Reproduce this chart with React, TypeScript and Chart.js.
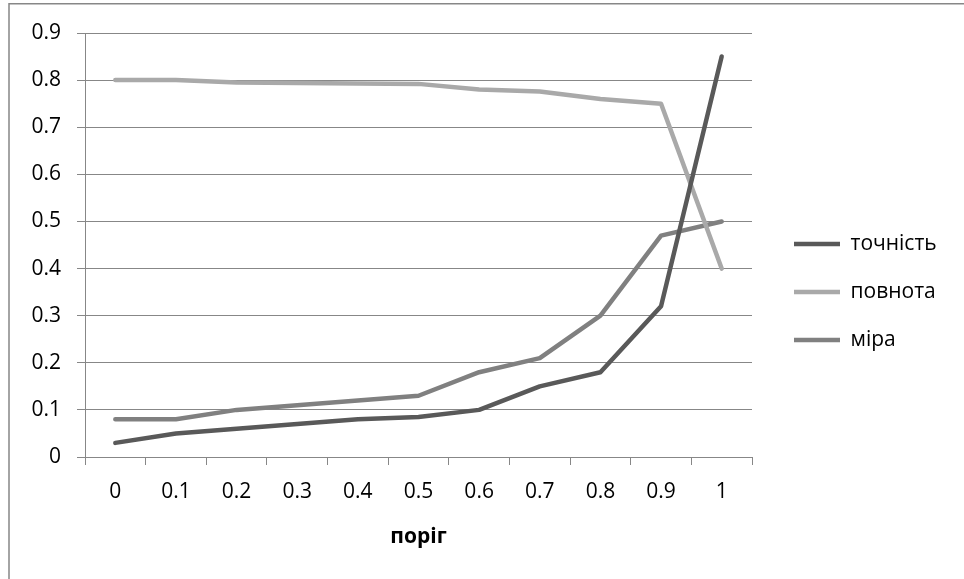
import React, { useEffect, useRef } from 'react';
import { Chart, registerables } from 'chart.js';

Chart.register(...registerables);

const categories = ['0', '0.1', '0.2', '0.3', '0.4', '0.5', '0.6', '0.7', '0.8', '0.9', '1'];
const precisionValues = [0.03, 0.05, 0.06, 0.07, 0.08, 0.085, 0.1, 0.15, 0.18, 0.32, 0.85];
const recallValues = [0.8, 0.8, 0.795, 0.794, 0.793, 0.792, 0.78, 0.776, 0.76, 0.75, 0.4];
const fMeasureValues = [0.08, 0.08, 0.1, 0.11, 0.12, 0.13, 0.18, 0.21, 0.3, 0.47, 0.5];
const seriesNames = ['точність', 'повнота', 'міра'];
const yTickValues = [0, 0.1, 0.2, 0.3, 0.4, 0.5, 0.6, 0.7, 0.8, 0.9];
const xAxisTitle = 'поріг';

const GRID = '#878787';
const FONT = "'Open Sans', 'Noto Sans', sans-serif";

export default function App() {
  const ref = useRef<HTMLCanvasElement | null>(null);

  useEffect(() => {
    document.body.style.margin = '0';
    const canvas = ref.current;
    if (!canvas) return;

    const frame = {
      id: 'frame',
      beforeDraw(chart: any) {
        const ctx = chart.ctx;
        ctx.save();
        ctx.fillStyle = '#ffffff';
        ctx.fillRect(0, 0, chart.width, chart.height);
        ctx.strokeStyle = GRID;
        ctx.lineWidth = 1.5;
        ctx.strokeRect(9, 3.75, 1200, 800);
        ctx.restore();
      },
    };

    const legendFix = {
      id: 'legendFix',
      beforeLayout(chart: any) {
        const lg = chart.legend;
        if (lg && !lg.__patched) {
          const orig = lg.fit;
          lg.fit = function () {
            orig.call(this);
            this.width = 212;
          };
          lg.__patched = true;
        }
      },
      afterLayout(chart: any) {
        const lg = chart.legend;
        if (!lg) return;
        lg.left += 15;
        lg.right += 15;
        lg.top -= 14;
        lg.bottom -= 14;
      },
    };

    const chart = new Chart(canvas, {
      type: 'line',
      data: {
        labels: categories,
        datasets: [
          { label: seriesNames[0], data: precisionValues, borderColor: '#595959', backgroundColor: '#595959' },
          { label: seriesNames[1], data: recallValues, borderColor: '#A9A9A9', backgroundColor: '#A9A9A9' },
          { label: seriesNames[2], data: fMeasureValues, borderColor: '#808080', backgroundColor: '#808080' },
        ].map((d) => ({
          ...d,
          borderWidth: 4.5,
          pointRadius: 0,
          pointHoverRadius: 0,
          tension: 0,
          fill: false,
          borderCapStyle: 'round' as const,
          borderJoinStyle: 'round' as const,
        })),
      },
      options: {
        responsive: false,
        animation: false,
        devicePixelRatio: 1,
        layout: { padding: { left: 0, right: 0, top: 33, bottom: 0 } },
        plugins: {
          tooltip: { enabled: false },
          legend: {
            position: 'right',
            align: 'center',
            labels: {
              usePointStyle: true,
              pointStyle: 'line',
              pointStyleWidth: 46,
              boxHeight: 21,
              padding: 27,
              color: '#000000',
              font: { family: FONT, size: 21 },
            },
          },
        },
        scales: {
          x: {
            type: 'category',
            offset: true,
            grid: {
              offset: true,
              drawOnChartArea: false,
              drawTicks: true,
              tickLength: 8,
              color: GRID,
            },
            border: { color: GRID },
            ticks: {
              color: '#000000',
              padding: 14,
              maxRotation: 0,
              autoSkip: false,
              font: { family: FONT, size: 21 },
            },
            title: {
              display: true,
              text: xAxisTitle,
              color: '#000000',
              font: { family: FONT, size: 21, weight: 'bold' },
              padding: { top: 0, bottom: 29 },
            },
            afterFit(scale: any) {
              scale.height = 579 - 457;
            },
          },
          y: {
            min: 0,
            max: 0.9,
            grid: {
              color: GRID,
              drawTicks: true,
              tickLength: 8,
            },
            border: { color: GRID },
            afterBuildTicks(scale: any) {
              scale.ticks = yTickValues.map((v) => ({ value: v }));
            },
            ticks: {
              color: '#000000',
              padding: 16,
              font: { family: FONT, size: 21 },
              callback: (v: any) => String(Math.round(Number(v) * 10) / 10),
            },
            afterFit(scale: any) {
              scale.width = 85;
            },
          },
        },
      },
      plugins: [frame, legendFix],
    });

    return () => chart.destroy();
  }, []);

  return (
    <div style={{ width: 964, height: 579 }}>
      <canvas ref={ref} width={964} height={579} style={{ display: 'block' }} />
    </div>
  );
}
